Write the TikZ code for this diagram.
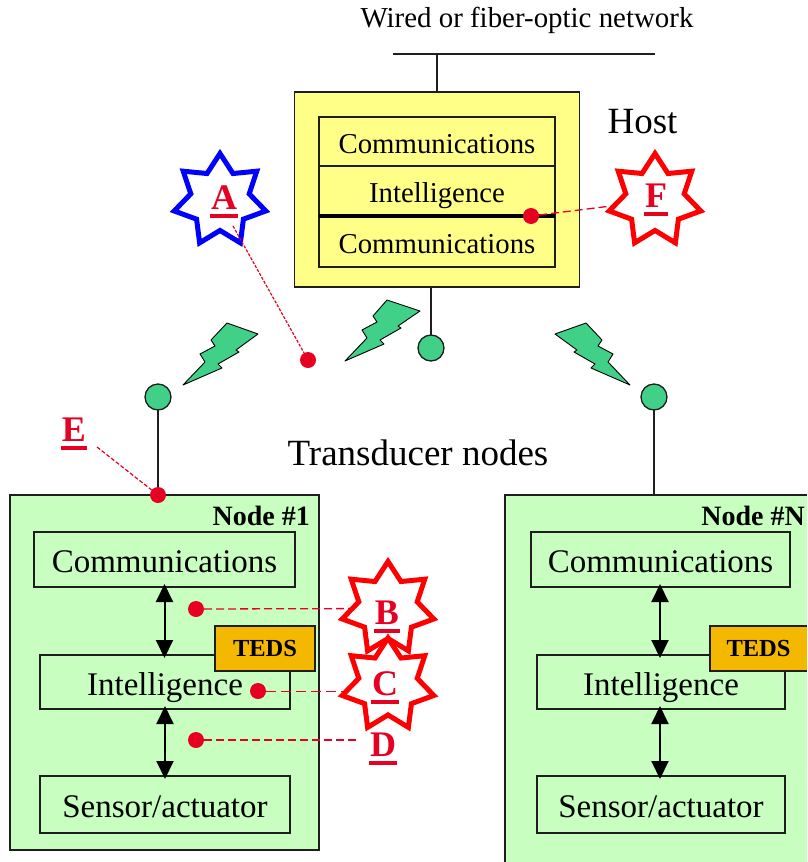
\documentclass[tikz,border=0pt]{standalone}
\usepackage{fontspec}
\setmainfont{Liberation Serif}
\usetikzlibrary{shapes.geometric,arrows.meta}
\pgfdeclarelayer{front}
\pgfsetlayers{main,front}
\definecolor{hostyellow}{HTML}{FFFF88}
\definecolor{nodegreen}{HTML}{C8FFC0}
\definecolor{boltgreen}{HTML}{40D088}
\definecolor{tedsorange}{HTML}{F5B800}
\definecolor{markred}{HTML}{E60022}
\definecolor{edge}{HTML}{1E1E1E}
\newcommand{\fs}[1]{\fontsize{#1}{#1}\selectfont}
\newcommand{\ulet}[1]{\setbox0\hbox{#1}\rlap{\hspace{-1pt}\rule[-9pt]{\dimexpr\wd0+2pt\relax}{4.5pt}}\box0}
\tikzset{
  x=1pt,y=-1pt,
  panel/.style={draw=edge,line width=1.8pt,inner sep=0pt,outer sep=0pt},
  hostblock/.style={panel,fill=hostyellow,minimum width=236pt,font=\fs{28.8},text height=25pt,text depth=2pt},
  fieldblock/.style={panel,minimum width=#1,font=\fs{33},text height=28pt,text depth=2pt},
  tedsbox/.style={panel,fill=tedsorange,font=\fs{24.5}\bfseries},
  dotmark/.style={circle,fill=markred,minimum size=16pt,inner sep=0pt,outer sep=0pt},
  ball/.style={circle,draw=edge,line width=1.3pt,fill=boltgreen,minimum size=26pt,inner sep=0pt,outer sep=0pt},
  burst/.style={star,star points=7,star point ratio=1.57,minimum size=94pt,inner sep=0pt,outer sep=0pt,line width=5pt,fill=white},
  letter/.style={anchor=base,text=markred,font=\fs{36}\bfseries,inner sep=0pt},
  caption/.style={inner sep=0pt,font=\fs{#1}},
  wire/.style={draw=edge,line width=1.8pt},
  dashline/.style={draw=markred,line width=1.3pt,dash pattern=on 8pt off 4pt},
  dotline/.style={draw=markred,line width=1.2pt,dash pattern=on 3pt off 1.5pt},
  biarrow/.style={draw=black,line width=2pt,{Triangle[length=18pt,width=17pt]}-{Triangle[length=18pt,width=17pt]},shorten <=-3pt,shorten >=-3pt},
  bolt/.style={draw=black,line width=.9pt,fill=boltgreen,line join=round}
}
\begin{document}
\begin{tikzpicture}
\useasboundingbox (0,0) rectangle (807,862);
% top network
\coordinate (netL) at (393,54);
\coordinate (netR) at (655,54);
\node[caption=28.9] (wired) at (527,20) {Wired or fiber-optic network};
\draw[wire] (netL) -- (netR);
% host
\node[panel,fill=hostyellow,minimum width=285pt,minimum height=195pt] (host) at (437,189.5) {};
\coordinate (netT) at (437,54);
\draw[wire] (netT) -- (host.north);
\node[hostblock,minimum height=49pt] (hc1) at (437,141.5) {Communications};
\node[hostblock,minimum height=50pt] (hi) at (437,191) {Intelligence};
\node[hostblock,minimum height=51pt] (hc2) at (437,241.5) {Communications};
\draw[draw=black,line width=3.6pt] (hi.south west) -- (hi.south east);
\node[caption=37] (hostlab) at (642.5,122) {Host};
\node[caption=37] (trans) at (418,453) {Transducer nodes};
% balls
\node[ball] (b0) at (431,348) {};
\node[ball] (b1) at (158,397) {};
\node[ball] (bN) at (654,397) {};
\draw[wire] (431,287) -- (b0.north);
% bolts
\draw[bolt] (345,361) -- (367,338) -- (362,330) -- (377,322) -- (373,316) -- (387,300) -- (420,311) -- (398,326) -- (401,328) -- (380,340) -- (384,344) -- cycle;
\draw[bolt] (183,385) -- (205,362) -- (200,354) -- (215,346) -- (211,340) -- (227,323) -- (258,334) -- (236,350) -- (239,352) -- (218,364) -- (222,368) -- cycle;
\draw[bolt] (630,385) -- (608,362) -- (613,354) -- (598,346) -- (602,340) -- (586,323) -- (555,334) -- (577,350) -- (574,352) -- (595,364) -- (591,368) -- cycle;
% node 1
\node[panel,fill=nodegreen,minimum width=309pt,minimum height=355pt] (n1) at (164.5,672.5) {};
\draw[wire] (b1.south) -- (b1.south |- n1.north);
\node[caption=28,anchor=east,font=\fs{28}\bfseries] (n1lab) at (310,516) {Node \#1};
\node[fieldblock=261pt,minimum height=55pt] (c1) at (164.5,559.5) {Communications};
\node[fieldblock=250pt,minimum height=54pt] (i1) at (165,682) {Intelligence};
\node[fieldblock=250pt,minimum height=57pt] (s1) at (165,804.5) {Sensor/actuator};
\node[tedsbox,minimum width=100pt,minimum height=45pt] (t1) at (265,648.5) {TEDS};
\draw[biarrow] (c1.south) -- (c1.south |- i1.north);
\draw[biarrow] (i1.south) -- (s1.north);
% node N
\node[fill=nodegreen,minimum width=302pt,minimum height=367pt,inner sep=0pt,outer sep=0pt] (nN) at (656,678.5) {};
\draw[wire] (nN.south west) -- (nN.north west) -- (nN.north east);
\draw[wire] (bN.south) -- (bN.south |- nN.north);
\node[caption=28,anchor=east,font=\fs{28}\bfseries] (nNlab) at (805,516) {Node \#N};
\node[fieldblock=259pt,minimum height=55pt] (cN) at (660.5,559.5) {Communications};
\node[fieldblock=248pt,minimum height=54pt] (iN) at (661,682) {Intelligence};
\node[fieldblock=248pt,minimum height=57pt] (sN) at (661,804.5) {Sensor/actuator};
\node[fill=tedsorange,draw=none,minimum width=97pt,minimum height=45pt,inner sep=0pt,outer sep=0pt,font=\fs{24.5}\bfseries] (tN) at (758.5,648.5) {TEDS};
\draw[edge,line width=1.8pt] (tN.north east) -- (tN.north west) -- (tN.south west) -- (tN.south east);
\coordinate (arN) at (660,600);
\draw[biarrow] (arN |- cN.south) -- (arN |- iN.north);
\draw[biarrow] (arN |- iN.south) -- (arN |- sN.north);
% markers
\node[dotmark] (dA) at (308,360) {};
\node[dotmark] (dF) at (531,216) {};
\node[dotmark] (dE) at (158,495) {};
\node[dotmark] (dB) at (196,609) {};
\node[dotmark] (dC) at (258,691) {};
\node[dotmark] (dD) at (196,740) {};
\begin{pgfonlayer}{front}
\node[burst,draw=blue] (sA) at (220,200.5) {};
\node[burst,draw=red] (sF) at (655,200.5) {};
\node[burst,draw=red] (sB) at (388,608.5) {};
\node[burst,draw=red] (sC) at (388,685) {};
\node[letter] (lA) at (224,209) {\ulet{A}};
\node[letter] (lF) at (656,207) {\ulet{F}};
\node[letter] (lB) at (387,624) {\ulet{B}};
\node[letter] (lC) at (385,695) {\ulet{C}};
\node[letter] (lD) at (383,756) {\ulet{D}};
\node[letter] (lE) at (74,441) {\ulet{E}};
\coordinate (cA) at (233,226);
\draw[dotline] (cA) -- (dA);
\end{pgfonlayer}
\coordinate (cE) at (97,447);
\coordinate (cD) at (358,740);
\draw[dotline,dash pattern=on 4pt off 2pt] (cE) -- (dE);
\draw[dashline] (dF) -- (sF);
\draw[dashline] (dB) -- (sB);
\draw[dashline,line width=1pt,dash pattern=on 10pt off 5pt] (dC) -- (dC -| sC);
\draw[dashline] (dD) -- (cD);
\end{tikzpicture}
\end{document}
